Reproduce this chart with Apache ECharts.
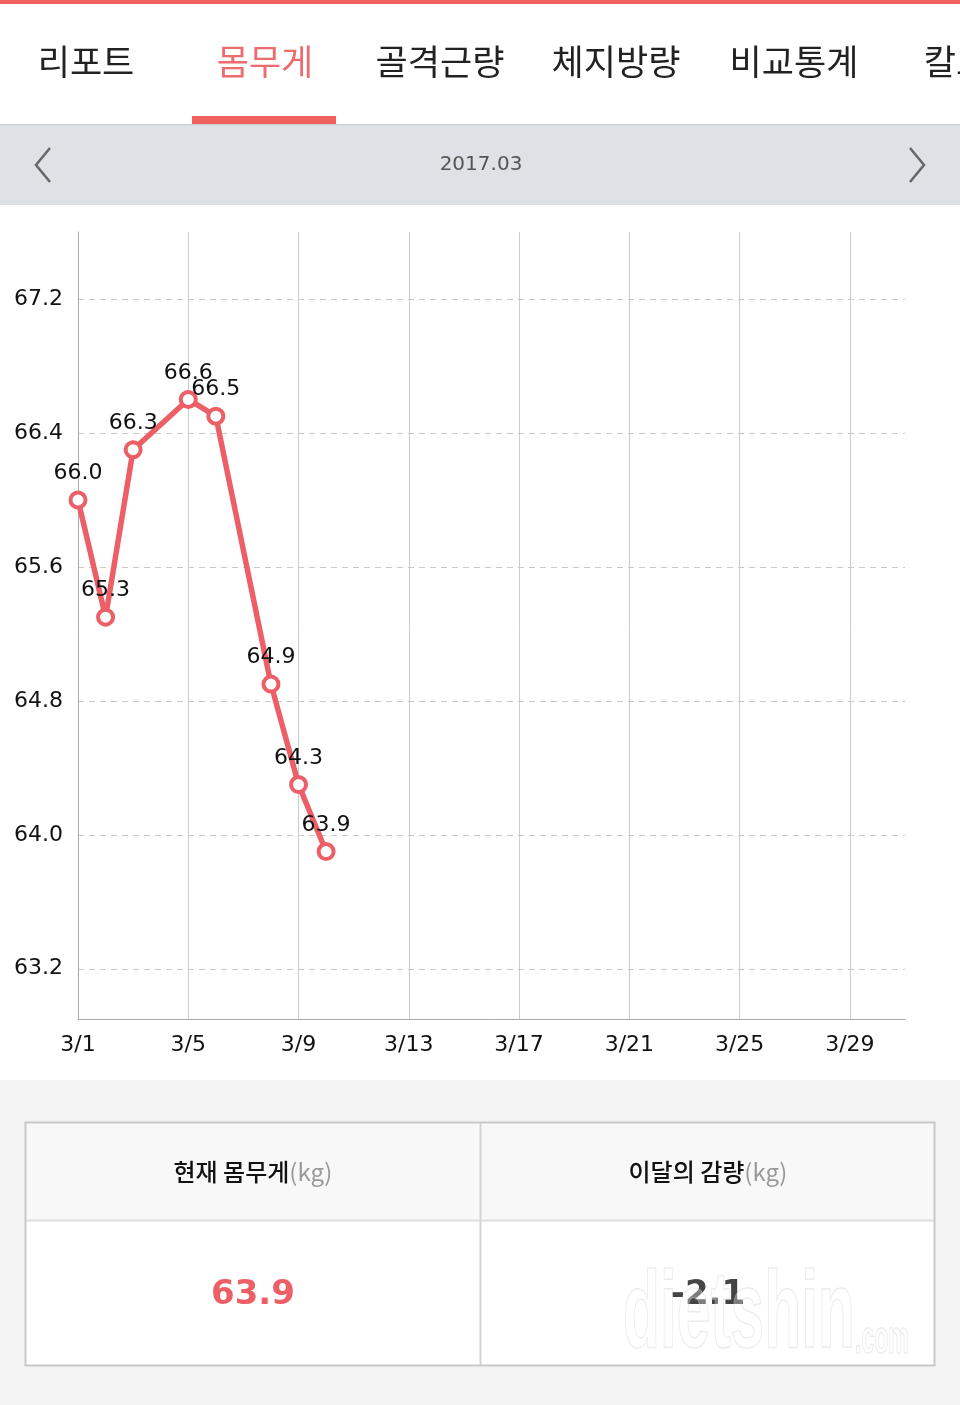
<!DOCTYPE html>
<html>
<head>
<meta charset="utf-8">
<script src="https://cdn.jsdelivr.net/npm/echarts@6/dist/echarts.min.js"></script>
<style>
  html, body { margin: 0; padding: 0; background: #ffffff; }
  #main { width: 960px; height: 1405px; }
</style>
</head>
<body>
<div id="main"></div>
<script>
// ---- data ----
const monthLabel = '2017.03';
const tabs = ['리포트', '몸무게', '골격근량', '체지방량', '비교통계', '칼로리'];
const days = ['3/1','3/2','3/3','3/4','3/5','3/6','3/7','3/8','3/9','3/10','3/11','3/12','3/13','3/14','3/15','3/16',
              '3/17','3/18','3/19','3/20','3/21','3/22','3/23','3/24','3/25','3/26','3/27','3/28','3/29','3/30','3/31'];
const measuredDays = ['3/1','3/2','3/3','3/5','3/6','3/8','3/9','3/10'];
const weights = [66.0, 65.3, 66.3, 66.6, 66.5, 64.9, 64.3, 63.9];
const yTicks = [63.2, 64.0, 64.8, 65.6, 66.4, 67.2];
const currentWeight = '63.9';
const monthChange = '-2.1';

const RED = '#ec5f67';
const chart = echarts.init(document.getElementById('main'));

const tabX = [86, 265, 440, 616, 794, 972];
const tabGraphics = tabs.map((t, i) => ({
  type: 'text', x: tabX[i], y: 62,
  style: { text: t, font: '35px "Noto Sans CJK KR"', fill: i === 1 ? '#ee6b6e' : '#222222',
           align: 'center', verticalAlign: 'middle' }
}));

const option = {
  backgroundColor: '#ffffff',
  animation: false,
  grid: { left: 78, top: 232, right: 55, bottom: 386 },
  xAxis: {
    type: 'category',
    data: days,
    boundaryGap: false,
    axisLine: { show: true, lineStyle: { color: '#aaaaaa', width: 1 } },
    axisTick: { show: false },
    axisLabel: { interval: 3, color: '#111111', fontSize: 22, fontFamily: 'DejaVu Sans', margin: 15 },
    splitLine: { show: true, interval: 3, lineStyle: { color: '#cccccc', width: 1, type: 'solid' } }
  },
  yAxis: {
    type: 'value',
    min: 62.9,
    max: 67.6,
    axisLine: { show: true, lineStyle: { color: '#aaaaaa', width: 1 } },
    axisTick: { show: false, customValues: yTicks },
    axisLabel: { customValues: yTicks, color: '#111111', fontSize: 22, fontFamily: 'DejaVu Sans', margin: 15,
                 formatter: v => v.toFixed(1) },
    splitLine: { show: true, lineStyle: { color: '#c8c8c8', width: 1, type: [6, 5] } }
  },
  series: [{
    type: 'line',
    data: measuredDays.map((d, i) => [d, weights[i]]),
    lineStyle: { color: RED, width: 5.5 },
    symbol: 'circle',
    symbolSize: 15,
    itemStyle: { color: '#ffffff', borderColor: RED, borderWidth: 4 },
    label: { show: true, position: 'top', distance: 6, color: '#111111', fontSize: 22,
             fontFamily: 'DejaVu Sans', formatter: p => p.value[1].toFixed(1) },
    z: 5
  }],
  graphic: [
    // top red strip
    { type: 'rect', shape: { x: 0, y: 0, width: 960, height: 4 }, style: { fill: '#f0605f' } },
    ...tabGraphics,
    // active tab underline
    { type: 'rect', shape: { x: 192, y: 116, width: 144, height: 8 }, style: { fill: '#f0605f' } },
    // month header band
    { type: 'rect', shape: { x: 0, y: 124, width: 960, height: 1 }, style: { fill: '#c9cccf' } },
    { type: 'rect', shape: { x: 0, y: 125, width: 960, height: 80 }, style: { fill: '#dee1e5' } },
    { type: 'text', x: 481, y: 165, style: { text: monthLabel, font: '20px "DejaVu Sans"', fill: '#555555',
      align: 'center', verticalAlign: 'middle' } },
    { type: 'polyline', shape: { points: [[50, 148], [36, 165], [50, 182]] },
      style: { stroke: '#666666', lineWidth: 2.5, fill: null } },
    { type: 'polyline', shape: { points: [[910, 148], [924, 165], [910, 182]] },
      style: { stroke: '#666666', lineWidth: 2.5, fill: null } },
    // bottom summary area
    { type: 'rect', shape: { x: 0, y: 1080, width: 960, height: 325 }, style: { fill: '#f4f4f4' } },
    { type: 'rect', shape: { x: 25, y: 1122, width: 910, height: 98 }, style: { fill: '#f8f8f8' } },
    { type: 'rect', shape: { x: 25, y: 1220, width: 910, height: 146 }, style: { fill: '#ffffff' } },
    { type: 'line', shape: { x1: 26, y1: 1220.5, x2: 934, y2: 1220.5 }, style: { stroke: '#dddddd', lineWidth: 2 } },
    { type: 'line', shape: { x1: 480.5, y1: 1122, x2: 480.5, y2: 1366 }, style: { stroke: '#d4d4d4', lineWidth: 2 } },
    { type: 'rect', shape: { x: 25.5, y: 1122.5, width: 909, height: 243 },
      style: { fill: null, stroke: '#c8c8c8', lineWidth: 2 } },
    { type: 'text', x: 253, y: 1172, style: {
      text: '{a|현재 몸무게}{b|(kg)}', align: 'center', verticalAlign: 'middle',
      rich: { a: { font: '500 24px "Noto Sans CJK KR"', fill: '#111111' },
              b: { font: '24px "Noto Sans CJK KR"', fill: '#999999' } } } },
    { type: 'text', x: 708, y: 1172, style: {
      text: '{a|이달의 감량}{b|(kg)}', align: 'center', verticalAlign: 'middle',
      rich: { a: { font: '500 24px "Noto Sans CJK KR"', fill: '#111111' },
              b: { font: '24px "Noto Sans CJK KR"', fill: '#999999' } } } },
    { type: 'text', x: 253, y: 1295, style: { text: currentWeight, font: 'bold 34px "DejaVu Sans"', fill: RED,
      align: 'center', verticalAlign: 'middle' } },
    { type: 'text', x: 708, y: 1295, style: { text: monthChange, font: 'bold 34px "DejaVu Sans"', fill: '#444444',
      align: 'center', verticalAlign: 'middle' } },
    // watermark
    { type: 'text', x: 623, y: 1317, scaleX: 0.55, originX: 0, z: 100,
      style: { text: 'dietshin', font: 'bold 110px "Liberation Sans"', fill: 'rgba(255,255,255,0.3)',
               stroke: 'rgba(200,200,200,0.4)', lineWidth: 1.5, align: 'left', verticalAlign: 'middle' } },
    { type: 'text', x: 855, y: 1340, scaleX: 0.5, originX: 0, z: 100,
      style: { text: '.com', font: 'bold 46px "Liberation Sans"', fill: 'rgba(255,255,255,0.3)',
               stroke: 'rgba(200,200,200,0.4)', lineWidth: 1.5, align: 'left', verticalAlign: 'middle' } }
  ]
};
chart.setOption(option);
</script>
</body>
</html>
